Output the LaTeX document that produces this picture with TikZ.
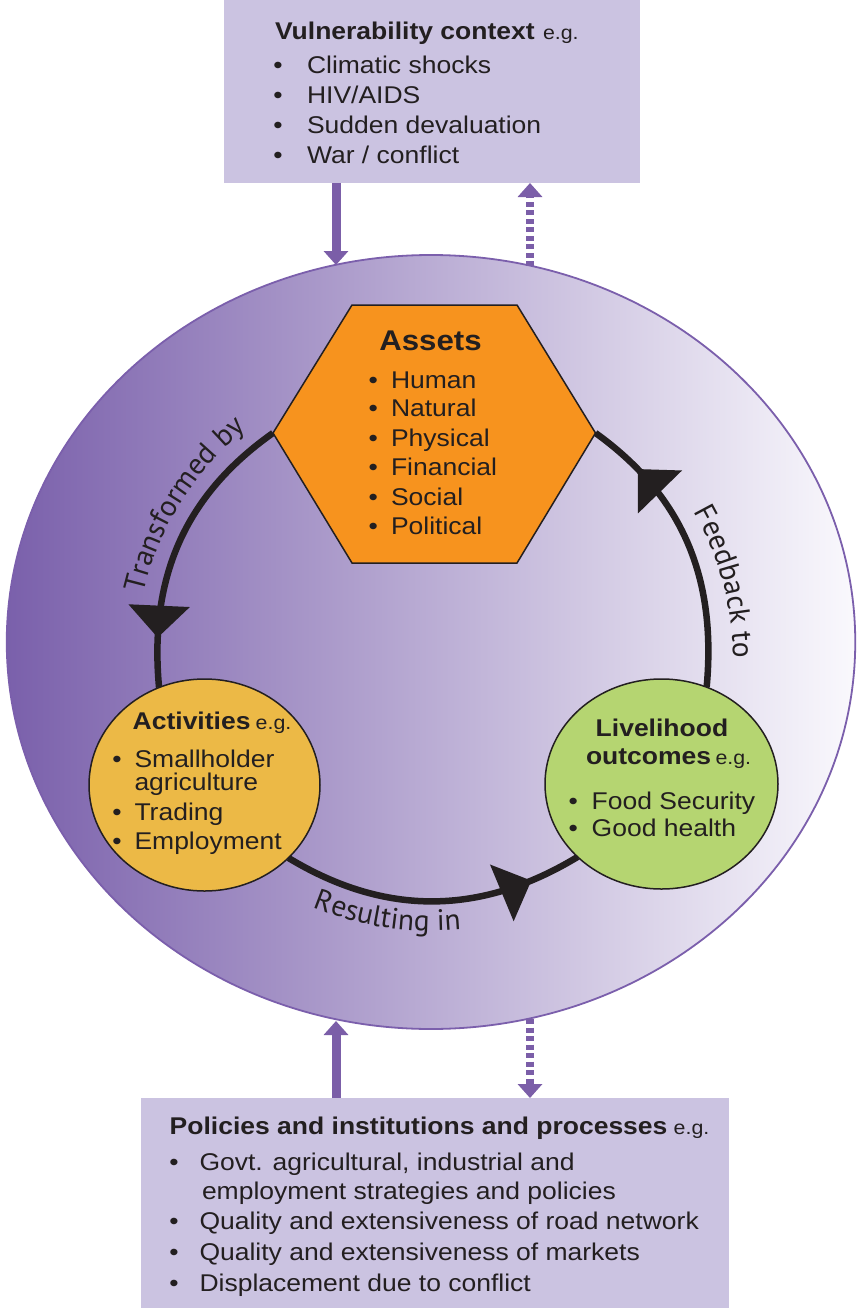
\documentclass[tikz,border=0pt]{standalone}
\usepackage{fontspec}
\setmainfont{Liberation Sans}[FakeStretch=1.095]
\newfontfamily\lblfont{PT Sans}
\usetikzlibrary{shapes.geometric, arrows.meta, decorations.markings, decorations.text}
\definecolor{envL}{HTML}{7A60AB}
\definecolor{envR}{HTML}{FAF9FD}
\definecolor{envB}{HTML}{7B5FAC}
\definecolor{boxc}{HTML}{CBC3E1}
\definecolor{arrowc}{HTML}{7B5EA8}
\definecolor{hexc}{HTML}{F7931E}
\definecolor{actc}{HTML}{ECB946}
\definecolor{livc}{HTML}{B5D571}
\definecolor{ink}{HTML}{231F20}
\newcommand\litem[5]{%
  \node[bul] (#1b) at (#2,-#4) {\textbullet};
  \node[txt] (#1) at (#3,-#4) {#5};}
\begin{document}
\begin{tikzpicture}[x=1pt,y=1pt]
\tikzset{
 txt/.style={anchor=base west, inner sep=0pt, outer sep=0pt, text=ink, font=\fontsize{24.2}{29}\selectfont},
 ttl/.style={txt, font=\fontsize{24.2}{29}\selectfont\bfseries},
 eg/.style={txt, font=\fontsize{19.5}{22}\selectfont},
 bul/.style={anchor=base, inner sep=0pt, outer sep=0pt, text=ink, font=\fontsize{24.2}{29}\selectfont},
 box/.style={rectangle, fill=boxc, inner sep=0pt, outer sep=0pt, anchor=north west},
 ring/.style={draw=ink, line width=6.5pt},
 mid arrow/.style={postaction={decorate}, decoration={markings, mark=at position #1 with {\arrow{Triangle[width=60pt,length=32pt]}}}},
 parrow/.style={draw=arrowc, line width=9pt, -{Triangle[width=24pt,length=14pt]}},
 pdash/.style={draw=arrowc, line width=8pt, dash pattern=on 5pt off 3.5pt, -{Triangle[width=24pt,length=14pt]}},
}
\fill[white] (0,0) rectangle (857,-1308);
\useasboundingbox (0,0) rectangle (857,-1308);

% environment ellipse
\node[ellipse, minimum width=848.5pt, minimum height=774pt, inner sep=0pt, outer sep=0pt,
      left color=envL, right color=envR, draw=envB, line width=1.8pt] (env) at (431,-642) {};

% boxes
\node[box, minimum width=416pt, minimum height=183pt] (vul) at (224,0) {};
\node[box, minimum width=588pt, minimum height=210pt] (pol) at (141,-1098) {};

% points where the purple connectors meet the ellipse
\coordinate (eTL) at (336,-265);
\coordinate (eTR) at (530,-266);
\coordinate (eBL) at (336,-1021);
\coordinate (eBR) at (530,-1019);

% purple connectors
\draw[parrow] (vul.south -| eTL) -- (eTL);
\draw[pdash] (eTR) -- (vul.south -| eTR);
\draw[parrow] (pol.north -| eBL) -- (eBL);
\draw[pdash] (eBR) -- (pol.north -| eBR);

% inner nodes
\coordinate (hexL) at (273,-433);
\coordinate (hexR) at (595.5,-433);
\node[ellipse, minimum width=231pt, minimum height=212pt, inner sep=0pt, outer sep=0pt] (act) at (204.5,-785) {};
\node[ellipse, minimum width=233pt, minimum height=210pt, inner sep=0pt, outer sep=0pt] (liv) at (661.5,-784) {};

% ring
\draw[ring, mid arrow=0.83] (hexL) to[out=215.2, in=95.3] (act.115);
\draw[ring, mid arrow=0.83] (act.-41) to[out=-31.2, in=211.2] (liv.221);
\draw[ring, mid arrow=0.81] (liv.65) to[out=84.7, in=-35.7] (hexR);

% hexagon and circles
\draw[fill=hexc, draw=ink, line width=1.5pt, line join=miter] (hexL) -- (352,-305) -- (517,-305) -- (hexR) -- (517,-563) -- (352,-563) -- cycle;
\draw[fill=actc, draw=ink, line width=1.5pt] (act.center) ellipse[x radius=115.5, y radius=106];
\draw[fill=livc, draw=ink, line width=1.5pt] (liv.center) ellipse[x radius=116.5, y radius=105];

% ring labels
\path[decorate, decoration={text along path, text align=center, text color=ink,
  text={|\lblfont\fontsize{29.5}{30}\selectfont|Transformed by}}]
  ([shift={(178:297)}]433,-660) arc[start angle=178, end angle=118, radius=297];
\path[decorate, decoration={text along path, text align=center, text color=ink,
  text={|\lblfont\fontsize{29.5}{30}\selectfont|Feedback to}}]
  ([shift={(51:300)}]433,-660) arc[start angle=51, end angle=-21, radius=300];
\path[decorate, decoration={text along path, text align=center, text color=ink,
  text={|\lblfont\fontsize{29.5}{30}\selectfont|Resulting in}}]
  ([shift={(231:313)}]432,-618) arc[start angle=231, end angle=292, radius=313];

% top box text
\node[ttl] (vt) at (275,-40) {Vulnerability context};
\node[eg] (vteg) at (543,-40) {e.g.};
\litem{v1}{278}{307}{74}{Climatic shocks}
\litem{v2}{278}{307}{104}{HIV/AIDS}
\litem{v3}{278}{307}{133.3}{Sudden devaluation}
\litem{v4}{278}{307}{163.3}{War / conflict}

% assets
\node[anchor=base, inner sep=0pt, text=ink, font=\fontsize{28.5}{30}\selectfont\bfseries] (ast) at (430.5,-350) {Assets};
\litem{a1}{373.3}{391}{388.3}{Human}
\litem{a2}{373.3}{391}{416.7}{Natural}
\litem{a3}{373.3}{391}{446}{Physical}
\litem{a4}{373.3}{391}{475}{Financial}
\litem{a5}{373.3}{391}{505}{Social}
\litem{a6}{373.3}{391}{534.3}{Political}

% activities
\node[ttl] (actt) at (132.7,-729.3) {Activities};
\node[eg] (acteg) at (255.7,-729.3) {e.g.};
\litem{c1}{117}{134.5}{767.3}{Smallholder}
\node[txt] (c1b2) at (134.5,-790) {agriculture};
\litem{c2}{117}{134.5}{820.7}{Trading}
\litem{c3}{117}{134.5}{849.3}{Employment}

% livelihood
\node[ttl] (lt1) at (595.7,-736) {Livelihood};
\node[ttl] (lt2) at (586,-764) {outcomes};
\node[eg] (lteg) at (715.5,-764) {e.g.};
\litem{l1}{573.3}{591.7}{809}{Food Security}
\litem{l2}{573.3}{591.7}{836.7}{Good health}

% policies
\node[ttl] (pt) at (169.7,-1134) {Policies and institutions and processes};
\node[eg] (pteg) at (673.7,-1134) {e.g.};
\litem{p1}{174}{199.5}{1170.7}{Govt. agricultural, industrial and}
\node[txt] (p1b2) at (202,-1199.3) {employment strategies and policies};
\litem{p2}{174}{199.5}{1229.3}{Quality and extensiveness of road network}
\litem{p3}{174}{199.5}{1260.7}{Quality and extensiveness of markets}
\litem{p4}{174}{199.5}{1291}{Displacement due to conflict}
\end{tikzpicture}
\end{document}
